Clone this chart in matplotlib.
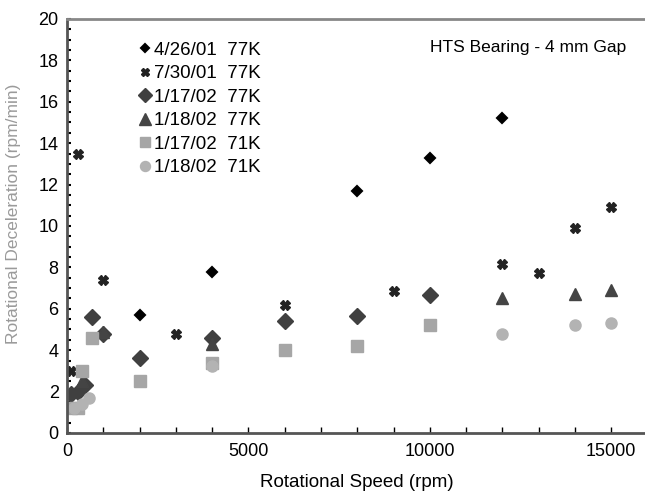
import matplotlib
matplotlib.use("Agg")
import matplotlib.pyplot as plt
from matplotlib.ticker import MultipleLocator

plt.rcParams['font.family'] = ['Liberation Sans', 'DejaVu Sans']

labels = ["4/26/01  77K", "7/30/01  77K", "1/17/02  77K", "1/18/02  77K", "1/17/02  71K", "1/18/02  71K"]

s1_x = [2000, 4000, 8000, 10000, 12000]
s1_y = [5.7, 7.8, 11.7, 13.3, 15.2]

s2_x = [100, 300, 1000, 3000, 6000, 9000, 12000, 13000, 14000, 15000]
s2_y = [3.0, 13.5, 7.4, 4.8, 6.2, 6.85, 8.15, 7.75, 9.9, 10.9]

s3_x = [100, 300, 500, 700, 1000, 2000, 4000, 6000, 8000, 10000]
s3_y = [1.9, 2.0, 2.3, 5.6, 4.8, 3.6, 4.6, 5.4, 5.65, 6.65]

s4_x = [400, 1000, 4000, 12000, 14000, 15000]
s4_y = [2.5, 4.9, 4.3, 6.5, 6.7, 6.9]

s5_x = [100, 300, 400, 700, 2000, 4000, 6000, 8000, 10000]
s5_y = [1.2, 1.2, 3.0, 4.6, 2.5, 3.4, 4.0, 4.2, 5.2]

s6_x = [200, 400, 600, 4000, 12000, 14000, 15000]
s6_y = [1.2, 1.4, 1.7, 3.25, 4.8, 5.2, 5.3]

fig = plt.figure(figsize=(6.45, 4.97), dpi=100)
ax = fig.add_axes([0.1039, 0.1288, 0.900, 0.833])

ax.plot(s1_x, s1_y, linestyle='none', marker='D', ms=5, color='black', mec='black', mew=1.5, label=labels[0])
ax.plot(s2_x, s2_y, linestyle='none', marker='X', ms=7, color='#222222', mec='#222222', label=labels[1])
ax.plot(s3_x, s3_y, linestyle='none', marker='D', ms=8, color='#404040', mec='#404040', label=labels[2])
ax.plot(s4_x, s4_y, linestyle='none', marker='^', ms=9, color='#444444', mec='#444444', label=labels[3])
ax.plot(s5_x, s5_y, linestyle='none', marker='s', ms=8.5, color='#a6a6a6', mec='#a6a6a6', label=labels[4])
ax.plot(s6_x, s6_y, linestyle='none', marker='o', ms=8, color='#b3b3b3', mec='#b3b3b3', label=labels[5])

ax.set_xlim(0, 16000)
ax.set_ylim(0, 20)
ax.xaxis.set_major_locator(MultipleLocator(5000))
ax.xaxis.set_minor_locator(MultipleLocator(1000))
ax.yaxis.set_major_locator(MultipleLocator(2))
ax.yaxis.set_minor_locator(MultipleLocator(0.5))
ax.tick_params(axis='both', which='both', direction='in', labelsize=13, colors='black')
ax.tick_params(axis='x', which='both', length=4, width=1, pad=7)
ax.tick_params(axis='y', which='both', length=3, width=1.5, pad=6)

ax.spines['right'].set_visible(False)
ax.spines['top'].set_color('#888888')
ax.spines['top'].set_linewidth(2)
ax.spines['left'].set_color('#555555')
ax.spines['left'].set_linewidth(2)
ax.spines['bottom'].set_color('#555555')
ax.spines['bottom'].set_linewidth(2)

ax.set_xlabel("Rotational Speed (rpm)", fontsize=13.5, labelpad=10)
ax.set_ylabel("Rotational Deceleration (rpm/min)", fontsize=12.5, color='#9a9a9a')
ax.yaxis.set_label_coords(-0.079, 0.53)

ax.text(0.963, 0.932, "HTS Bearing - 4 mm Gap", transform=ax.transAxes, ha='right', va='center', fontsize=12.5)

leg = ax.legend(loc='upper left', bbox_to_anchor=(0.1, 0.972), frameon=False, fontsize=13.5,
                handletextpad=0.05, labelspacing=0.34, handlelength=0.9, borderpad=0.1, markerscale=0.9)

fig.savefig("out.png", dpi=100)
